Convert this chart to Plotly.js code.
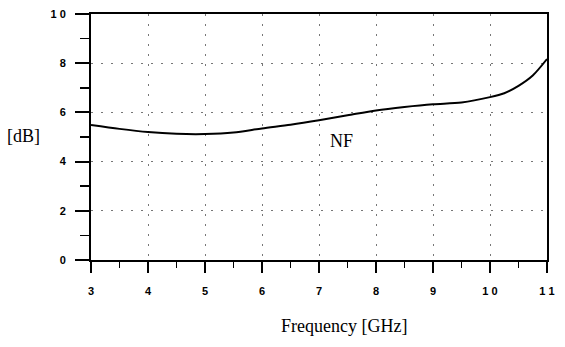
<!DOCTYPE html>
<html>
<head>
<meta charset="utf-8">
<script src="https://cdn.plot.ly/plotly-3.0.1.min.js"></script>
<style>html,body{margin:0;padding:0;background:#fff;}#chart{width:565px;height:347px;}</style>
</head>
<body>
<div id="chart"></div>
<script>
const freqGHz = [3, 3.5, 4, 4.5, 5, 5.5, 6, 6.5, 7, 7.5, 8, 8.5, 9, 9.5, 10, 10.25, 10.5, 10.75, 11];
const nfDb = [5.49, 5.33, 5.2, 5.13, 5.12, 5.18, 5.35, 5.5, 5.68, 5.88, 6.08, 6.22, 6.33, 6.4, 6.62, 6.78, 7.08, 7.5, 8.17];
const xTickVals = [3, 4, 5, 6, 7, 8, 9, 10, 11];
const xTickText = ['3', '4', '5', '6', '7', '8', '9', '1 0', '1 1'];
const yTickVals = [0, 2, 4, 6, 8, 10];
const yTickText = ['0', '2', '4', '6', '8', '1 0'];

const tickFont = {family: 'Liberation Sans, Arial, sans-serif', size: 11, color: '#000', weight: 'bold'};
const serif = 'Liberation Serif, Times New Roman, serif';

const trace = {
  x: freqGHz, y: nfDb, type: 'scatter', mode: 'lines',
  line: {color: '#000', width: 2, shape: 'spline', smoothing: 0.8},
  hoverinfo: 'skip'
};

const layout = {
  width: 565, height: 347,
  margin: {l: 91, r: 18, t: 14, b: 87},
  paper_bgcolor: '#fff', plot_bgcolor: '#fff',
  showlegend: false,
  xaxis: {
    range: [3, 11], tickmode: 'array', tickvals: xTickVals, ticktext: xTickText,
    ticks: 'outside', ticklen: 11, tickwidth: 2, tickcolor: '#000',
    minor: {tickmode: 'array', tickvals: [3.5,4.5,5.5,6.5,7.5,8.5,9.5,10.5], ticks: 'outside', ticklen: 6, tickwidth: 1.5, tickcolor: '#000', showgrid: false},
    showline: true, linecolor: '#000', linewidth: 2, mirror: true,
    showgrid: true, gridcolor: '#777', griddash: '2px,8px', gridwidth: 1,
    zeroline: false, tickfont: tickFont, ticklabelstandoff: 9
  },
  yaxis: {
    range: [0, 10], tickmode: 'array', tickvals: yTickVals, ticktext: yTickText,
    ticks: 'outside', ticklen: 14, tickwidth: 2, tickcolor: '#000',
    minor: {tickmode: 'array', tickvals: [1,3,5,7,9], ticks: 'outside', ticklen: 9, tickwidth: 1.5, tickcolor: '#000', showgrid: false},
    showline: true, linecolor: '#000', linewidth: 2, mirror: true,
    showgrid: true, gridcolor: '#777', griddash: '2px,8px', gridwidth: 1,
    zeroline: false, tickfont: tickFont, ticklabelstandoff: 7
  },
  annotations: [
    {text: '[dB]', xref: 'paper', yref: 'paper', x: -0.148, y: 0.505, xanchor: 'center', yanchor: 'middle', showarrow: false, font: {family: serif, size: 18, color: '#000'}},
    {text: 'NF', xref: 'x', yref: 'y', x: 7.4, y: 4.85, xanchor: 'center', yanchor: 'middle', showarrow: false, font: {family: serif, size: 18, color: '#000'}},
    {text: 'Frequency [GHz]', xref: 'paper', yref: 'paper', x: 0.555, y: -0.27, xanchor: 'center', yanchor: 'middle', showarrow: false, font: {family: serif, size: 18, color: '#000'}}
  ]
};

Plotly.newPlot('chart', [trace], layout, {staticPlot: true, displayModeBar: false});
</script>
</body>
</html>
